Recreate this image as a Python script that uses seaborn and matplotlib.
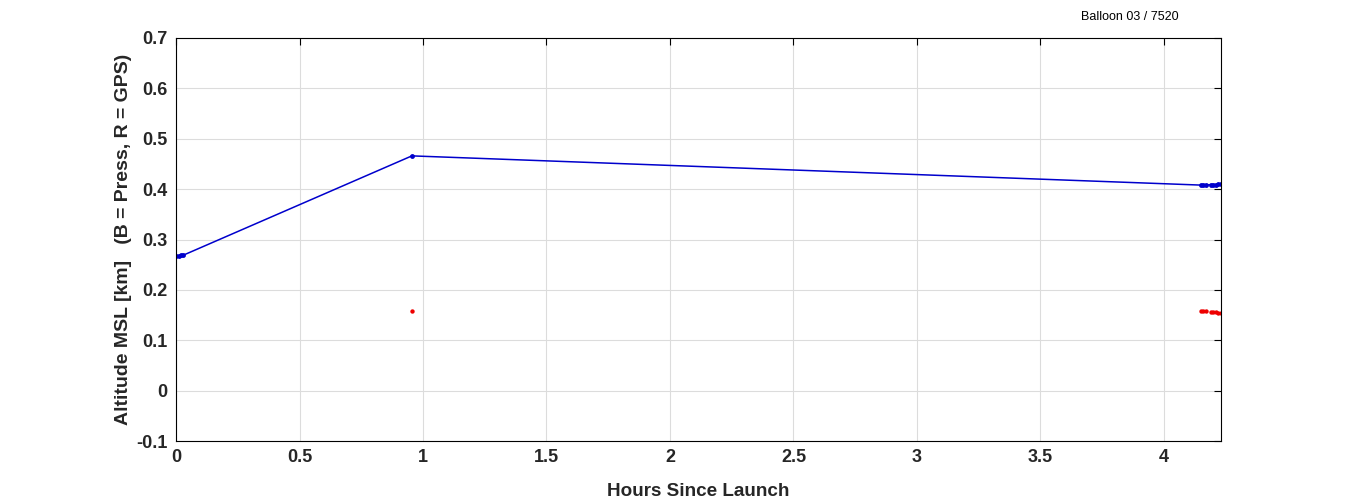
import numpy as np
import pandas as pd
import matplotlib
matplotlib.use("Agg")
import matplotlib.pyplot as plt
import seaborn as sns

# data
press_hours = [0.0, 0.01, 0.02, 0.03, 0.955, 4.15, 4.16, 4.17, 4.19, 4.20, 4.21, 4.22, 4.23]
press_alt = [0.268, 0.268, 0.269, 0.269, 0.466, 0.408, 0.408, 0.408, 0.409, 0.409, 0.409, 0.410, 0.410]
gps_hours = [0.955, 4.15, 4.16, 4.17, 4.19, 4.20, 4.21, 4.22, 4.23]
gps_alt = [0.158, 0.158, 0.158, 0.158, 0.157, 0.156, 0.156, 0.155, 0.155]

xticks = [0, 0.5, 1, 1.5, 2, 2.5, 3, 3.5, 4]
yticks = [-0.1, 0, 0.1, 0.2, 0.3, 0.4, 0.5, 0.6, 0.7]

press = pd.DataFrame({"hours": press_hours, "alt": press_alt})
gps = pd.DataFrame({"hours": gps_hours, "alt": gps_alt})

sns.set_style("whitegrid")
plt.rcParams["font.family"] = ["Liberation Sans", "DejaVu Sans"]

fig = plt.figure(figsize=(13.5, 5), dpi=100)
ax = fig.add_axes([0.1304, 0.118, 0.774, 0.806])

sns.lineplot(data=press, x="hours", y="alt", ax=ax, color="#0000cc", linewidth=1.1,
             marker="o", markersize=3.5, markeredgewidth=0, sort=False, estimator=None)
sns.scatterplot(data=gps, x="hours", y="alt", ax=ax, color="#ee0000", s=10, linewidth=0)

ax.set_xlim(0, 4.231)
ax.set_ylim(-0.1, 0.7)
ax.set_xticks(xticks)
ax.set_xticklabels(["0", "0.5", "1", "1.5", "2", "2.5", "3", "3.5", "4"])
ax.set_yticks(yticks)
ax.set_yticklabels(["-0.1", "0", "0.1", "0.2", "0.3", "0.4", "0.5", "0.6", "0.7"])

ax.grid(True, color="#dcdcdc", linewidth=0.8)
for s in ax.spines.values():
    s.set_color("black")
    s.set_linewidth(0.8)
ax.tick_params(direction="in", length=5, width=0.8, top=True, right=True,
               labelsize=13, colors="black", pad=6)
for lab in ax.get_xticklabels() + ax.get_yticklabels():
    lab.set_fontweight("bold")
    lab.set_color("#262626")

ax.set_xlabel("Hours Since Launch", fontsize=13.6, fontweight="bold", color="#262626", labelpad=12)
ax.set_ylabel("Altitude MSL [km]   (B = Press, R = GPS)", fontsize=14, fontweight="bold",
              color="#262626", labelpad=3)

fig.text(0.837, 0.965, "Balloon 03 / 7520", fontsize=9, ha="center", va="center", color="black")

fig.savefig("out.png", dpi=100)
